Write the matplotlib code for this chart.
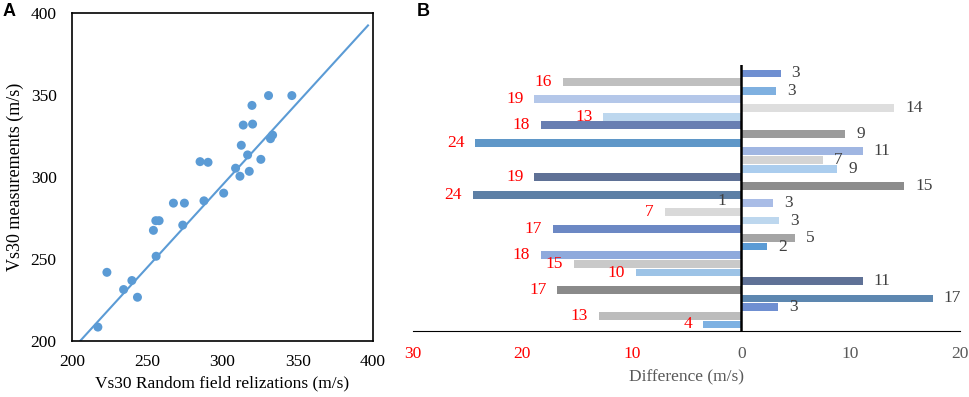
import numpy as np
import matplotlib
matplotlib.use("Agg")
import matplotlib.pyplot as plt

# Panel A: Vs30 random field realisations vs measurements (m/s)
vs30_field = [217.2, 223.2, 234.3, 239.8, 243.5, 254.1, 255.9, 255.7, 257.9, 267.4,
              273.6, 274.7, 285.1, 287.7, 290.4, 300.8, 308.7, 311.6, 312.5, 313.8,
              316.7, 317.8, 319.6, 320.0, 325.5, 330.6, 331.9, 333.3, 346.1]
vs30_meas = [208.5, 241.9, 231.4, 236.9, 226.7, 267.5, 251.7, 273.4, 273.4, 284.1,
             270.7, 284.1, 309.4, 285.5, 309.0, 290.2, 305.4, 300.5, 319.4, 331.7,
             313.5, 303.5, 343.7, 332.3, 310.8, 349.7, 323.4, 325.6, 349.7]
trend_slope = 1.006
trend_intercept = -6.6
trend_xmax = 396.7

# Panel B: differences (m/s), top to bottom; negative = left side
diff_values = [3.6, -16.3, 3.2, -18.9, 14.0, -12.6, -18.3, 9.5, -24.3, 11.1,
               7.5, 8.8, -18.9, 14.9, -24.5, 2.9, -7.0, 3.5, -17.2, 4.9,
               2.4, -18.3, -15.3, -9.6, 11.1, -16.8, 17.5, 3.4, -13.0, -3.5]
diff_labels = ["3", "16", "3", "19", "14", "13", "18", "9", "24", "11",
               "7", "9", "19", "15", "24", "3", "7", "3", "17", "5",
               "2", "18", "15", "10", "11", "17", "17", "3", "13", "4"]
diff_colors = ["#6f8fd1", "#bfbfbf", "#7fb0e0", "#b4c7e9", "#dedede", "#bdd7ee",
               "#687eb2", "#9b9b9b", "#5f97c8", "#a0b6e2", "#d4d4d4", "#abcdee",
               "#5f7196", "#8c8c8c", "#5d7fa5", "#a9bce6", "#d9d9d9", "#bdd7ee",
               "#6c88c4", "#a5a5a5", "#5b9bd5", "#8faadc", "#c9c9c9", "#9dc3e6",
               "#5f7196", "#8a8a8a", "#5d87b0", "#6f8fd1", "#bcbcbc", "#7eb1e2"]
stray_label = "1"
stray_pos = (-1.4, 14.7)
diff_ticks = [-30, -20, -10, 0, 10, 20]

serif = "Liberation Serif"
blue = "#5b9bd5"

fig = plt.figure(figsize=(9.69, 3.97), dpi=100)

# ---- panel A
axA = fig.add_axes([0.0743, 0.141, 0.3106, 0.826])
axA.scatter(vs30_field, vs30_meas, s=42, color=blue, edgecolors="none", zorder=3)
tx = np.array([200, trend_xmax])
axA.plot(tx, trend_slope * tx + trend_intercept, color=blue, lw=1.5)
axA.set_xlim(200, 400)
axA.set_ylim(200, 400)
axA.set_xticks(range(200, 401, 50))
axA.set_yticks(range(200, 401, 50))
axA.tick_params(axis="x", length=0, pad=9, labelsize=12.5)
axA.tick_params(axis="y", length=0, pad=11, labelsize=12.5)
for lab in axA.get_xticklabels() + axA.get_yticklabels():
    lab.set_fontfamily(serif)
for sp in axA.spines.values():
    sp.set_linewidth(1.2)
axA.set_xlabel("Vs30 Random field relizations (m/s)", fontsize=12.5,
               fontfamily=serif, labelpad=4)
axA.set_ylabel("Vs30 measurements (m/s)", fontsize=13, fontfamily=serif, labelpad=5)

# ---- panel B
axB = fig.add_axes([0.4262, 0.167, 0.5645, 0.669])
pos = np.arange(len(diff_values))
axB.barh(pos, diff_values, height=0.9, color=diff_colors, zorder=2)
axB.axvline(0, color="black", lw=1.8, zorder=3)
for y, v, t in zip(pos, diff_values, diff_labels):
    if v < 0:
        axB.text(v - 1.0, y, t, ha="right", va="center", color="red",
                 fontsize=12.5, fontfamily=serif)
    else:
        axB.text(v + 1.0, y, t, ha="left", va="center", color="#404040",
                 fontsize=12.5, fontfamily=serif)
axB.text(stray_pos[0], stray_pos[1], stray_label, ha="right", va="center",
         color="#404040", fontsize=12.5, fontfamily=serif)
axB.set_xlim(-30, 20)
axB.set_ylim(len(diff_values) - 0.28, -0.96)
axB.set_yticks([])
axB.set_xticks(diff_ticks)
axB.set_xticklabels([str(abs(t)) for t in diff_ticks])
axB.tick_params(axis="x", length=0, pad=11, labelsize=12.5)
for t, lab in zip(diff_ticks, axB.get_xticklabels()):
    lab.set_fontfamily(serif)
    lab.set_color("red" if t < 0 else "#595959")
for s in ["top", "left", "right"]:
    axB.spines[s].set_visible(False)
axB.spines["bottom"].set_linewidth(0.8)
axB.set_xlabel("Difference (m/s)", fontsize=12.5, fontfamily=serif, color="#595959",
               labelpad=5)

fig.text(0.0093, 0.972, "A", fontsize=13, fontweight="bold",
         fontfamily="Liberation Sans", ha="center", va="center")
fig.text(0.4365, 0.972, "B", fontsize=13, fontweight="bold",
         fontfamily="Liberation Sans", ha="center", va="center")

fig.savefig("out.png", dpi=100)
